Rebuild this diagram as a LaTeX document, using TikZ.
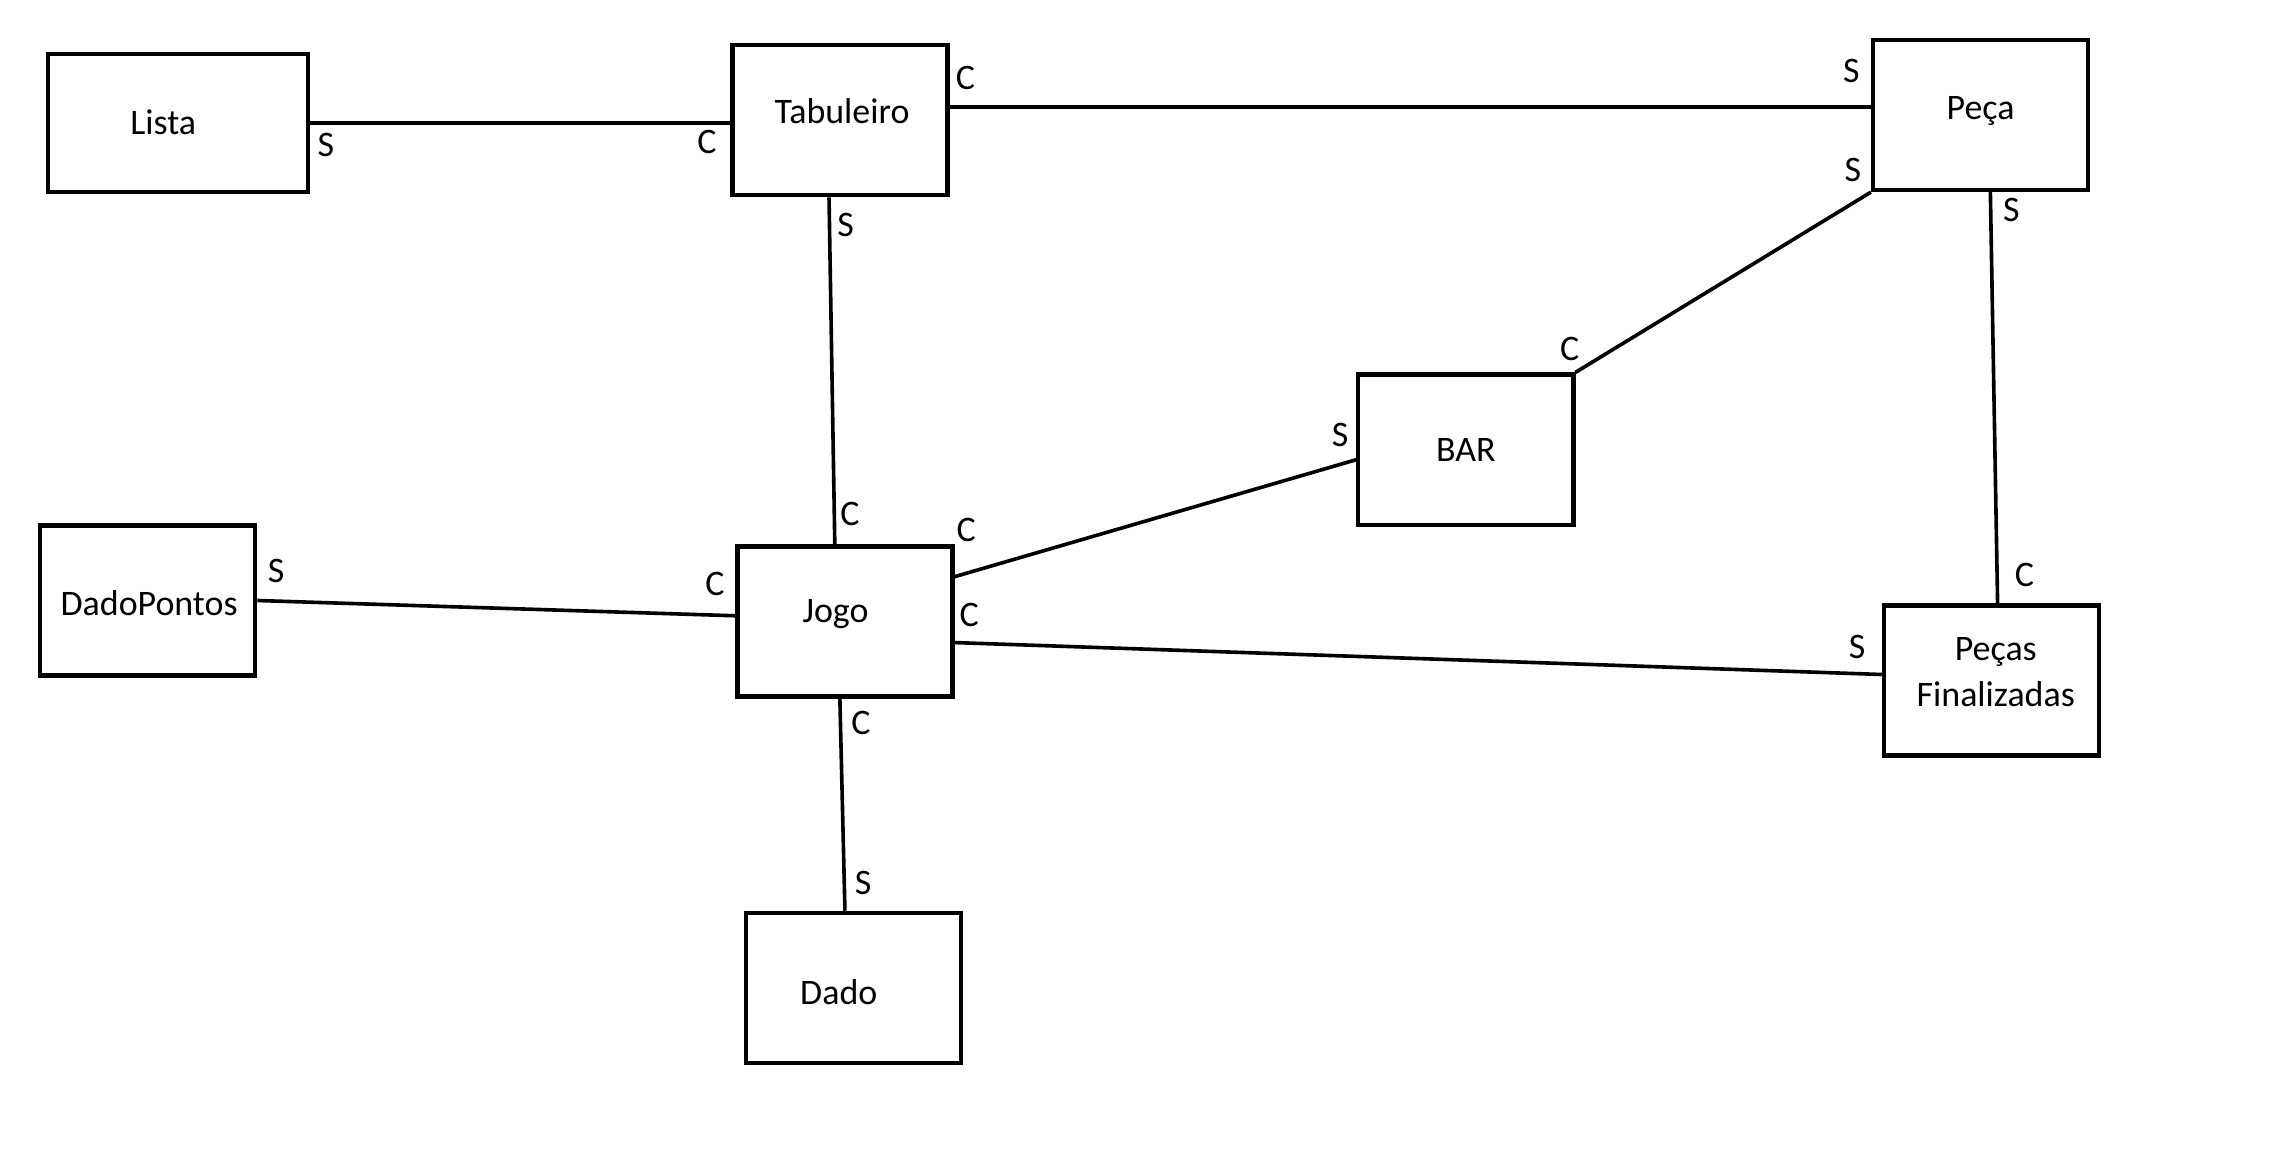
\documentclass[tikz,border=0pt]{standalone}
\usepackage{fontspec}
\setmainfont{Carlito}
\begin{document}
\begin{tikzpicture}[x=0.5pt,y=-0.5pt,font=\fontsize{12.4pt}{16pt}\selectfont,
  entity/.style={draw, line width=1.5pt, minimum width=74.25pt, minimum height=51.85pt, inner sep=0pt, align=center},
  rel/.style={line width=1.25pt},
  mult/.style={inner sep=0pt}]

  \useasboundingbox (0,0) rectangle (1569,807);

  \node [entity, minimum width=89.75pt, minimum height=47.65pt,
    label={[shift={(-10,-1)}]center:Lista}] (lista) at (122.75,85.15) {};
  \node [entity, label={[shift={(1.5,-6)}]center:Tabuleiro}] (tabuleiro) at (580,83) {};
  \node [entity, label={[shift={(0,-3)}]center:Peça}] (peca) at (1367.75,79.35) {};
  \node [entity] (bar) at (1012.25,310.5) {BAR};
  \node [entity, label={[shift={(1,2)}]center:DadoPontos}] (dadopontos) at (102,414.7) {};
  \node [entity, label={[shift={(-6.5,-5)}]center:Jogo}] (jogo) at (583.5,429.25) {};
  \node [entity, label={[shift={(3,-6)},align=center]center:Peças\\Finalizadas}] (pecasfin) at (1375.25,470) {};
  \node [entity, label={[shift={(-10,3)}]center:Dado}] (dado) at (589.25,682.3) {};

  \draw [rel] (lista.east) -- ([shift={(0,2.15)}]tabuleiro.west)
    node [mult, at start, shift={(11,15)}] {S}
    node [mult, at end, shift={(-16,13)}] {C};
  \draw [rel] ([shift={(0,-9)}]tabuleiro.east) -- ([shift={(0,-5.35)}]peca.west)
    node [mult, at start, shift={(11,-20)}] {C}
    node [mult, at end, shift={(-13.5,-25)}] {S};
  \draw [rel] ([shift={(-7.5,0)}]tabuleiro.south) -- ([shift={(-7,0)}]jogo.north)
    node [mult, at start, shift={(11.5,19)}] {S}
    node [mult, at end, shift={(10.5,-21)}] {C};
  \draw [rel] (peca.south west) -- (bar.north east)
    node [mult, at start, shift={(-12.5,-15)}] {S}
    node [mult, at end, shift={(-4,-16)}] {C};
  \draw [rel] ([shift={(6.75,0)}]peca.south) -- ([shift={(4.25,0)}]pecasfin.north)
    node [mult, at start, shift={(14.5,12.5)}] {S}
    node [mult, at end, shift={(18.5,-19.7)}] {C};
  \draw [rel] ([shift={(0,-31)}]jogo.east) -- ([shift={(0,7)}]bar.west)
    node [mult, at start, shift={(8,-32)}] {C}
    node [mult, at end, shift={(-11,-17)}] {S};
  \draw [rel] (dadopontos.east) -- ([shift={(0,-4)}]jogo.west)
    node [mult, at start, shift={(13,-20.7)}] {S}
    node [mult, at end, shift={(-14,-21.7)}] {C};
  \draw [rel] ([shift={(0,14.5)}]jogo.east) -- ([shift={(0,-4.2)}]pecasfin.west)
    node [mult, at start, shift={(10,-19)}] {C}
    node [mult, at end, shift={(-17,-18.8)}] {S};
  \draw [rel] ([shift={(-3.5,0)}]jogo.south) -- ([shift={(-5.75,0)}]dado.north)
    node [mult, at start, shift={(14.5,16.5)}] {C}
    node [mult, at end, shift={(12.5,-19.4)}] {S};

\end{tikzpicture}
\end{document}
